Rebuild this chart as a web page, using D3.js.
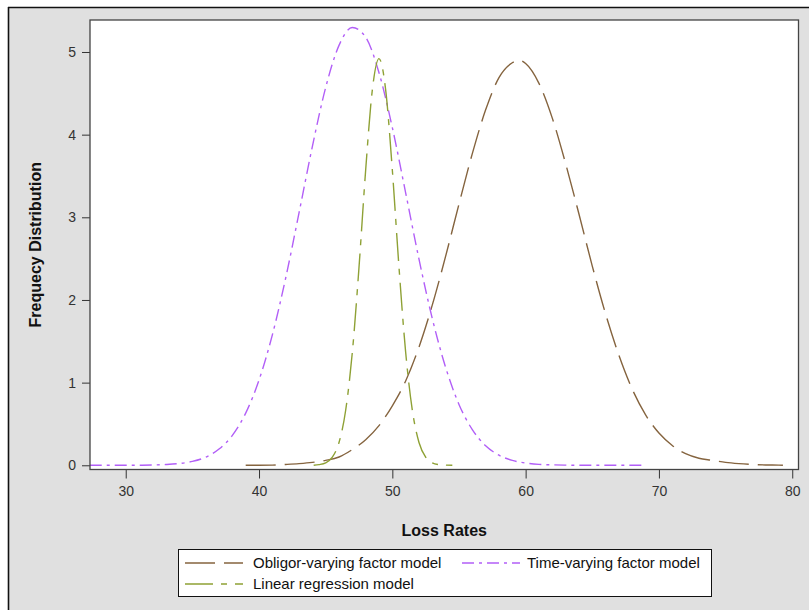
<!DOCTYPE html>
<html><head><meta charset="utf-8">
<script src="https://cdn.jsdelivr.net/npm/d3@7"></script>
<style>body{margin:0;background:#fff}svg{display:block}text{font-family:"Liberation Sans",Arial,sans-serif}</style>
</head><body><svg id="c" width="809" height="610"></svg>
<script>
const seriesNames = ["Obligor-varying factor model","Time-varying factor model","Linear regression model"];
const obligorX = [39,40,41,42,43,44,45,46,47,48,49,50,51,52,53,54,55,56,57,58,59,59.5,60,61,62,63,64,65,66,67,68,69,70,71,72,73,74,75,76,77,78,79,79.3];
const obligorY = [0,0,0.002,0.01,0.02,0.035,0.06,0.10,0.19,0.31,0.48,0.72,1.02,1.43,1.94,2.53,3.16,3.77,4.30,4.69,4.87,4.90,4.86,4.62,4.20,3.65,3.04,2.41,1.83,1.33,0.92,0.61,0.39,0.24,0.14,0.085,0.06,0.035,0.02,0.01,0.004,0.002,0];
const timeX = [27.3,28,29,30,31,32,33,34,35,36,37,38,39,40,41,42,43,44,45,46,47,48,49,50,51,52,53,54,55,56,57,58,59,60,61,62,63,64,65,66,67,68,69];
const timeY = [0,0,0,0,0.001,0.003,0.009,0.021,0.047,0.098,0.196,0.362,0.631,1.031,1.578,2.266,3.053,3.856,4.570,5.080,5.296,5.179,4.749,4.086,3.296,2.494,1.773,1.184,0.736,0.432,0.236,0.122,0.059,0.027,0.011,0.005,0.002,0,0,0,0,0,0];
const linearX = [44.1,44.5,45,45.5,46,46.5,47,47.5,48,48.5,49,49.5,50,50.5,51,51.5,52,52.5,53,53.5,54,54.5];
const linearY = [0,0.008,0.029,0.098,0.276,0.666,1.368,2.395,3.573,4.542,4.92,4.542,3.573,2.395,1.368,0.666,0.276,0.098,0.029,0.008,0.002,0];
const xTicks = [30,40,50,60,70,80];
const yTicks = [0,1,2,3,4,5];
const colors = ["#85643f","#b25ff7","#8ea135"];
const dashes = ["30,9","12,5,3,5","28,8,6,8"];

const svg = d3.select("#c");
svg.append("rect").attr("x",8).attr("y",7).attr("width",801).attr("height",603).attr("fill","#e0e0e0");
svg.append("line").attr("x1",8).attr("x2",809).attr("y1",7.5).attr("y2",7.5).attr("stroke","#111").attr("stroke-width",1.6);
svg.append("line").attr("x1",8.5).attr("x2",8.5).attr("y1",7).attr("y2",610).attr("stroke","#111").attr("stroke-width",1.6);

const L=90,R=798.5,T=20,B=469.5;
const x = d3.scaleLinear().domain([27.32,80.47]).range([L,R]);
const y = d3.scaleLinear().domain([-0.051,5.387]).range([B,T]);

svg.append("rect").attr("x",L).attr("y",T).attr("width",R-L).attr("height",B-T).attr("fill","#fff");

const gx = svg.append("g").attr("transform",`translate(0,${B})`)
  .call(d3.axisBottom(x).tickValues(xTicks).tickSize(9).tickPadding(8).tickFormat(d3.format("d")));
const gy = svg.append("g").attr("transform",`translate(${L},0)`)
  .call(d3.axisLeft(y).tickValues(yTicks).tickSize(8).tickPadding(6).tickFormat(d3.format("d")));
[gx,gy].forEach(g=>{g.select(".domain").remove();g.selectAll("line").attr("stroke","#333");
  g.selectAll("text").attr("fill","#333").style("font-size","14px");});

const data = [[obligorX,obligorY],[timeX,timeY],[linearX,linearY]];
const line = d3.line().x(d=>x(d[0])).y(d=>y(d[1])).curve(d3.curveMonotoneX);
svg.append("clipPath").attr("id","pc").append("rect").attr("x",L).attr("y",T).attr("width",R-L).attr("height",B-T);
data.forEach((s,i)=>{
  const pts = s[0].map((v,j)=>[v,s[1][j]]);
  svg.append("path").datum(pts).attr("d",line).attr("fill","none").attr("stroke",colors[i])
    .attr("stroke-width",1.4).attr("stroke-dasharray",dashes[i]).attr("clip-path","url(#pc)");
});

svg.append("rect").attr("x",L).attr("y",T).attr("width",R-L).attr("height",B-T).attr("fill","none").attr("stroke","#444").attr("stroke-width",1.3);

svg.append("text").attr("x",(L+R)/2).attr("y",536).attr("text-anchor","middle").style("font-size","16px").style("font-weight","bold").attr("fill","#111").text("Loss Rates");
svg.append("text").attr("transform",`translate(41,${(T+B)/2}) rotate(-90)`).attr("text-anchor","middle").style("font-size","16px").style("font-weight","bold").attr("fill","#111").text("Frequecy Distribution");

// legend
const lg = svg.append("g");
lg.append("rect").attr("x",178.5).attr("y",549.5).attr("width",533).attr("height",47).attr("fill","#fff").attr("stroke","#111").attr("stroke-width",1);
const legPos = [[185,563],[462,563],[185,584]];
seriesNames.forEach((n,i)=>{
  const [lx,ly]=legPos[i];
  lg.append("line").attr("x1",lx).attr("x2",lx+58).attr("y1",ly).attr("y2",ly).attr("stroke",colors[i]).attr("stroke-width",1.4).attr("stroke-dasharray",dashes[i]);
  lg.append("text").attr("x",i===1?lx+65:lx+68).attr("y",ly+5).style("font-size","15px").attr("fill","#111").text(n);
});
</script></body></html>
